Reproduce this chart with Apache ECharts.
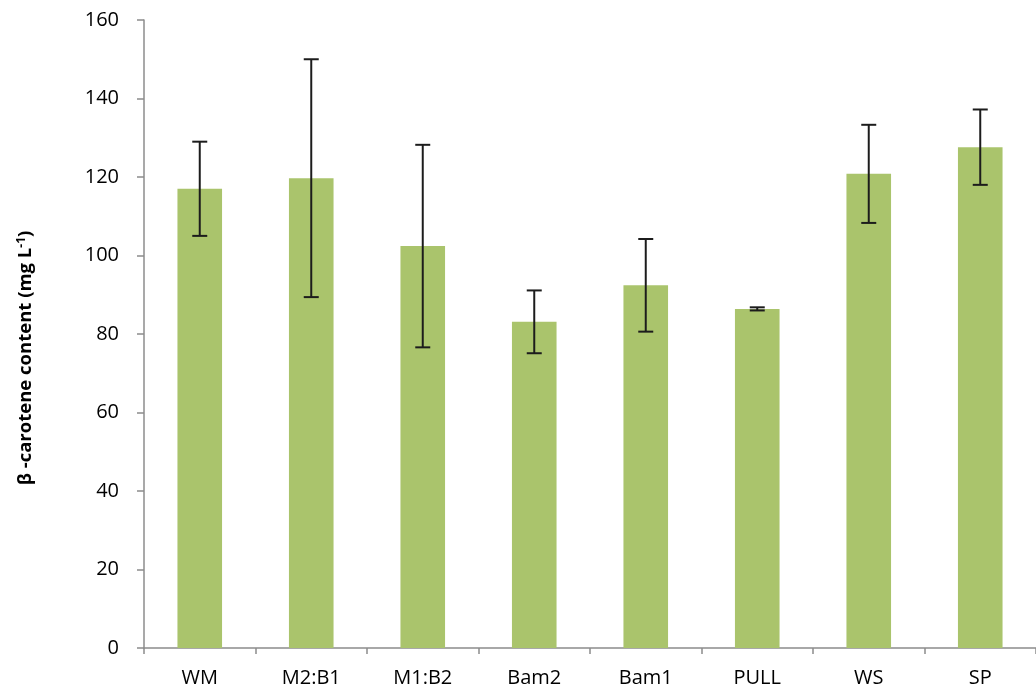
<!DOCTYPE html>
<html>
<head>
<meta charset="utf-8">
<title>β-carotene content</title>
<script src="https://cdn.jsdelivr.net/npm/echarts@6/dist/echarts.min.js"></script>
<style>
  html, body { margin: 0; padding: 0; background: #ffffff; }
  #chart { width: 1036px; height: 693px; }
</style>
</head>
<body>
<div id="chart"></div>
<script>
// Treatments along the x axis
const categories = ['WM', 'M2:B1', 'M1:B2', 'Bam2', 'Bam1', 'PULL', 'WS', 'SP'];
// Mean β-carotene content (mg L-1)
const means = [117.0, 119.7, 102.4, 83.1, 92.4, 86.4, 120.8, 127.6];
// Standard deviation shown as error bars
const errors = [12.0, 30.3, 25.8, 8.0, 11.8, 0.4, 12.5, 9.6];
// Y axis range and step
const yMin = 0, yMax = 160, yStep = 20;

const fontFamily = '"Open Sans", "Liberation Sans", sans-serif';
const axisGrey = '#8c8c8c';
const barGreen = '#aac46c';
const textColor = '#000000';

const chart = echarts.init(document.getElementById('chart'), null, { renderer: 'canvas' });

// Error bar drawn per category: vertical whisker with horizontal caps
function renderErrorBar(params, api) {
  const idx = api.value(0);
  const lo = api.coord([idx, api.value(1)]);
  const hi = api.coord([idx, api.value(2)]);
  const capHalf = 7.5;
  const style = { stroke: '#1c1c1c', lineWidth: 2 };
  return {
    type: 'group',
    children: [
      { type: 'line', shape: { x1: hi[0], y1: hi[1], x2: lo[0], y2: lo[1] }, style },
      { type: 'line', shape: { x1: hi[0] - capHalf, y1: hi[1], x2: hi[0] + capHalf, y2: hi[1] }, style },
      { type: 'line', shape: { x1: lo[0] - capHalf, y1: lo[1], x2: lo[0] + capHalf, y2: lo[1] }, style }
    ]
  };
}

const errorData = means.map((m, i) => [i, m - errors[i], m + errors[i]]);

chart.setOption({
  animation: false,
  backgroundColor: '#ffffff',
  grid: { left: 144, right: -7, top: 20, bottom: 45, containLabel: false },
  xAxis: {
    type: 'category',
    data: categories,
    boundaryGap: true,
    axisLine: { lineStyle: { color: axisGrey, width: 1.5 } },
    axisTick: { show: true, length: 6, alignWithLabel: false, lineStyle: { color: axisGrey, width: 1.5 } },
    axisLabel: { color: textColor, fontSize: 20, fontFamily, margin: 20 },
    splitLine: { show: false }
  },
  yAxis: {
    type: 'value',
    min: yMin,
    max: yMax,
    interval: yStep,
    axisLine: { show: true, lineStyle: { color: axisGrey, width: 1.5 } },
    axisTick: { show: true, length: 7, lineStyle: { color: axisGrey, width: 1.5 } },
    axisLabel: { color: textColor, fontSize: 20, fontFamily, margin: 25 },
    splitLine: { show: false }
  },
  graphic: [{
    type: 'text',
    x: 26,
    y: 358,
    rotation: Math.PI / 2,
    style: {
      text: '{b|β -carotene content (mg L}{sup|-1}{b|)}',
      align: 'center',
      verticalAlign: 'middle',
      rich: {
        b: { fontSize: 18.5, fontWeight: 'bold', fontFamily, fill: textColor },
        sup: { fontSize: 12, fontWeight: 'bold', fontFamily, fill: textColor, padding: [0, 0, 8, 0] }
      }
    }
  }],
  series: [
    {
      type: 'bar',
      data: means,
      barWidth: '40%',
      itemStyle: { color: barGreen },
      z: 2
    },
    {
      type: 'custom',
      renderItem: renderErrorBar,
      data: errorData,
      encode: { x: 0, y: [1, 2] },
      z: 3
    }
  ]
});
</script>
</body>
</html>
